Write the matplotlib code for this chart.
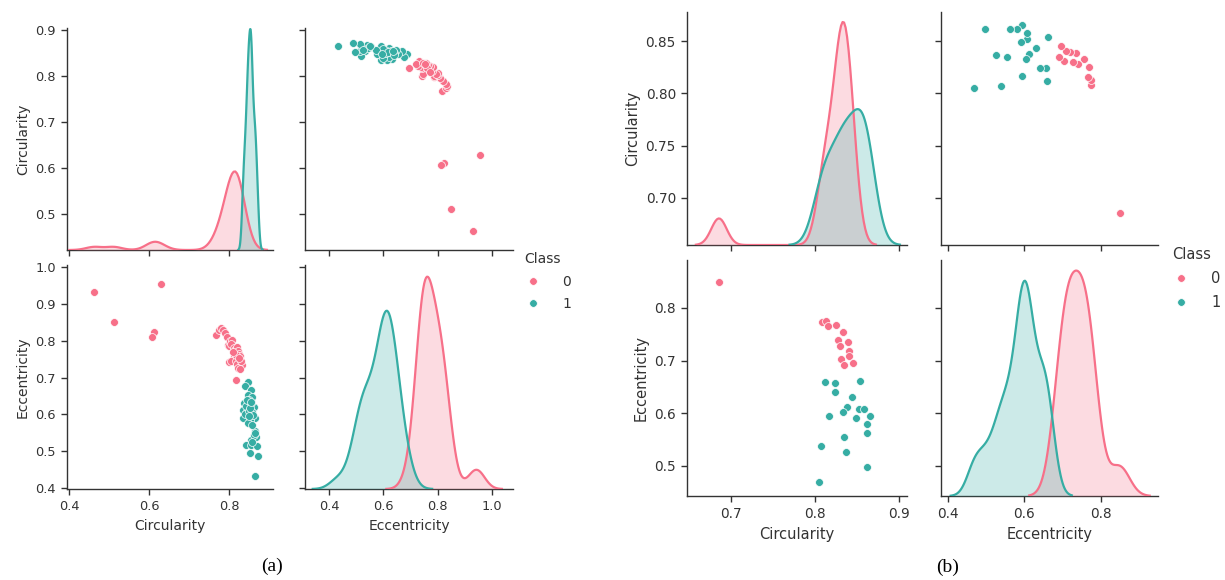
import numpy as np
import matplotlib
matplotlib.use("Agg")
import matplotlib.pyplot as plt
from matplotlib.lines import Line2D

# ---- data ----------------------------------------------------------------
classes = ["0", "1"]

# panel (a)
circ_a0 = [0.4625, 0.512, 0.629, 0.612, 0.6075,
           0.767, 0.775, 0.779, 0.784, 0.790, 0.796, 0.798, 0.800, 0.803, 0.808,
           0.806, 0.812, 0.815, 0.820, 0.823, 0.824, 0.828, 0.812, 0.814, 0.800,
           0.805, 0.818, 0.825, 0.821, 0.831, 0.833, 0.823, 0.827, 0.829, 0.818,
           0.810, 0.826, 0.818]
ecc_a0 = [0.931, 0.850, 0.954, 0.823, 0.811,
          0.816, 0.830, 0.833, 0.829, 0.820, 0.810, 0.787, 0.785, 0.800, 0.801,
          0.792, 0.780, 0.775, 0.783, 0.771, 0.765, 0.758, 0.755, 0.749, 0.743,
          0.745, 0.744, 0.743, 0.738, 0.731, 0.733, 0.726, 0.722, 0.746, 0.760,
          0.770, 0.752, 0.693]
circ_a1 = [0.8475, 0.841, 0.854, 0.8475, 0.8575, 0.8375, 0.8475, 0.8625, 0.835,
           0.8435, 0.8575, 0.866, 0.835, 0.852, 0.8475, 0.864, 0.8685, 0.856,
           0.8435, 0.854, 0.871, 0.852, 0.8725, 0.866,
           0.851, 0.842, 0.855, 0.839, 0.850, 0.860, 0.853, 0.858, 0.849,
           0.862, 0.857, 0.866, 0.846, 0.855]
ecc_a1 = [0.687, 0.676, 0.667, 0.654, 0.648, 0.631, 0.627, 0.621, 0.613,
          0.604, 0.606, 0.591, 0.591, 0.586, 0.577, 0.554, 0.539, 0.532,
          0.518, 0.516, 0.514, 0.496, 0.487, 0.433,
          0.640, 0.622, 0.630, 0.600, 0.610, 0.598, 0.618, 0.572, 0.595,
          0.545, 0.525, 0.550, 0.640, 0.635]

# panel (b)
circ_b0 = [0.808, 0.813, 0.816, 0.825, 0.833, 0.828, 0.839, 0.830, 0.840,
           0.831, 0.841, 0.835, 0.845, 0.686]
ecc_b0 = [0.773, 0.775, 0.765, 0.768, 0.755, 0.739, 0.735, 0.728, 0.719,
          0.703, 0.708, 0.691, 0.696, 0.849]
circ_b1 = [0.8115, 0.824, 0.824, 0.854, 0.844, 0.838, 0.833, 0.852, 0.858,
           0.817, 0.849, 0.866, 0.862, 0.862, 0.835, 0.807, 0.837, 0.862, 0.805]
ecc_b1 = [0.660, 0.657, 0.640, 0.662, 0.631, 0.612, 0.603, 0.608, 0.608,
          0.594, 0.591, 0.594, 0.580, 0.562, 0.555, 0.538, 0.526, 0.498, 0.469]

# ---- style ----------------------------------------------------------------
W, H = 1225, 580
PINK = (0.968, 0.441, 0.536)
TEAL = (0.210, 0.677, 0.643)
INK = "#333333"
plt.rcParams["font.family"] = ["DejaVu Sans"]


def kde(values, adjust=1.0, gridsize=120, cut=3):
    # statsmodels-style "scott" bandwidth, as old seaborn kdeplot used
    v = np.asarray(values, dtype=float)
    n = len(v)
    q75, q25 = np.percentile(v, [75, 25])
    a = min(v.std(ddof=1), (q75 - q25) / 1.349)
    bw = 1.059 * a * n ** (-0.2) * adjust
    grid = np.linspace(v.min() - cut * bw, v.max() + cut * bw, gridsize)
    dens = np.exp(-0.5 * ((grid[:, None] - v[None, :]) / bw) ** 2).sum(1)
    return grid, dens / (n * bw * np.sqrt(2 * np.pi))


def px_axes(fig, x0, y0, x1, y1):
    return fig.add_axes([x0 / W, 1 - y1 / H, (x1 - x0) / W, (y1 - y0) / H])


def style(ax, fs):
    for s in ("top", "right"):
        ax.spines[s].set_visible(False)
    for s in ("left", "bottom"):
        ax.spines[s].set_color(INK)
        ax.spines[s].set_linewidth(1.0)
    ax.tick_params(colors=INK, labelsize=fs, width=1.0, length=4.5)


def panel(fig, box, data, lims, ticks, fs, diag_top, bw_adj):
    (c0, e0, c1, e1) = data
    (cx, ex, cy, ey) = lims
    (ctk, etk, cytk, eytk) = ticks
    xs = box["xs"]
    ys = box["ys"]
    axes = {}
    for r in range(2):
        for c in range(2):
            ax = px_axes(fig, xs[c][0], ys[r][0], xs[c][1], ys[r][1])
            style(ax, fs[0])
            ax.set_xlim(cx if c == 0 else ex)
            ax.set_xticks(ctk if c == 0 else etk)
            ax.set_ylim(cy if r == 0 else ey)
            ax.set_yticks(cytk if r == 0 else eytk)
            if r == 0:
                ax.tick_params(labelbottom=False)
            if c == 1:
                ax.tick_params(labelleft=False)
            axes[r, c] = ax

    lbl = dict(fontsize=fs[1], color=INK)
    axes[0, 0].set_ylabel("Circularity", **lbl)
    axes[1, 0].set_ylabel("Eccentricity", **lbl)
    axes[1, 0].set_xlabel("Circularity", **lbl)
    axes[1, 1].set_xlabel("Eccentricity", **lbl)

    ms = 32
    for cc, ee, col in ((c0, e0, PINK), (c1, e1, TEAL)):
        axes[0, 1].scatter(ee, cc, s=ms, color=col, edgecolor="white",
                           linewidth=0.5, zorder=3)
        axes[1, 0].scatter(cc, ee, s=ms, color=col, edgecolor="white",
                           linewidth=0.5, zorder=3)

    for (r, c), pair, top, adj in (((0, 0), (c0, c1), diag_top[0], bw_adj[0]),
                                   ((1, 1), (e0, e1), diag_top[1], bw_adj[1])):
        dax = axes[r, c].twinx()
        dax.set_axis_off()
        peak = 0
        for vals, col, k in zip(pair, (PINK, TEAL), adj):
            g, d = kde(vals, k)
            dax.plot(g, d, color=col, lw=1.6)
            dax.fill_between(g, 1e-12, d, color=col, alpha=0.25, lw=0)
            peak = max(peak, d.max())
        dax.set_ylim(0, peak * top)
        dax.set_xlim(axes[r, c].get_xlim())
    return axes


fig = plt.figure(figsize=(W / 100, H / 100), dpi=100)

panel(fig,
      dict(xs=[(67, 273), (305, 513)], ys=[(28, 250), (265, 489)]),
      (circ_a0, ecc_a0, circ_a1, ecc_a1),
      ((0.395, 0.91), (0.312, 1.077), (0.422, 0.905), (0.398, 1.005)),
      ([0.4, 0.6, 0.8], [0.4, 0.6, 0.8, 1.0],
       [0.5, 0.6, 0.7, 0.8, 0.9], [0.4, 0.5, 0.6, 0.7, 0.8, 0.9, 1.0]),
      (9.3, 10), (1.005, 1.055), ((1.75, 0.85), (1.1, 1.05)))

panel(fig,
      dict(xs=[(687, 907), (941, 1158)], ys=[(12, 245), (260, 496)]),
      (circ_b0, ecc_b0, circ_b1, ecc_b1),
      ((0.648, 0.9095), (0.382, 0.949), (0.655, 0.878), (0.443, 0.891)),
      ([0.7, 0.8, 0.9], [0.4, 0.6, 0.8],
       [0.70, 0.75, 0.80, 0.85], [0.5, 0.6, 0.7, 0.8]),
      (9.8, 10.5), (1.045, 1.047), ((1.0, 1.0), (1.0, 0.75)))

handles = [Line2D([], [], ls="", marker="o", markersize=5.5, color=col,
                  markeredgecolor="white", markeredgewidth=0.5)
           for col in (PINK, TEAL)]
for (x, y), fs, pad in (((512 / W, 1 - 240 / H), 10, 1.5),
                        ((1159 / W, 1 - 234 / H), 10.5, 1.5)):
    leg = fig.legend(handles, classes, title="Class", loc="upper left",
                     bbox_to_anchor=(x, y), frameon=False, fontsize=fs,
                     title_fontsize=fs, handlelength=1.2, handletextpad=pad,
                     labelspacing=0.6)
    leg._legend_box.align = "left"
    for t in leg.get_texts():
        t.set_color(INK)
    leg.get_title().set_color(INK)

fig.text(272 / W, 1 - 566 / H, "(a)", family="Liberation Serif", fontsize=14,
         ha="center", va="center", color="black")
fig.text(948 / W, 1 - 567 / H, "(b)", family="Liberation Serif", fontsize=14,
         ha="center", va="center", color="black")

fig.savefig("out.png", dpi=100)
